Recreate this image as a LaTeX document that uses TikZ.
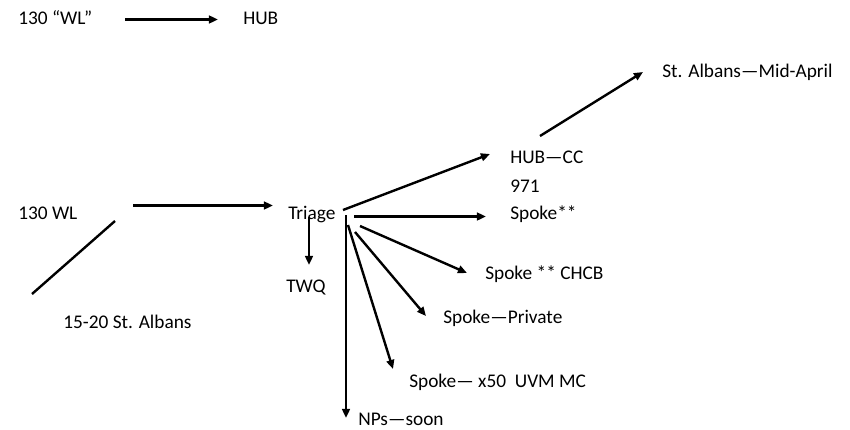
\documentclass[tikz,border=0pt]{standalone}
\usepackage{fontspec}
\setmainfont{Carlito}
\usetikzlibrary{arrows.meta}
\tikzset{
	lbl/.style={anchor=base west,inner sep=0pt,font=\fontsize{14.5}{17}\selectfont},
	ln/.style={line width=1.8pt},
	arr/.style={ln,-{Triangle[length=6.8pt,width=5.8pt]}}
}
\begin{document}
\begin{tikzpicture}[x=0.75pt,y=0.75pt,yscale=-1,xscale=1]
	\useasboundingbox (0,0) rectangle (850,429);
	
	% Text Node
	\node (wlq) [lbl] at (18,24) {130 “WL”};
	% Text Node
	\node (hub) [lbl] at (243,24) {HUB};
	% Text Node
	\node (wl) [lbl] at (18,219) {130 WL};
	% Text Node
	\node (alb) [lbl] at (63,328) {15-20 St. Albans};
	% Text Node
	\node (triage) [lbl] at (288,219) {Triage};
	% Text Node
	\node (twq) [lbl] at (286,292) {TWQ};
	% Text Node
	\node (hubcc) [lbl] at (510,163) {HUB—CC};
	% Text Node
	\node (nine) [lbl] at (510,192) {971};
	% Text Node
	\node (spk) [lbl] at (510,219) {Spoke**};
	% Text Node
	\node (midapr) [lbl] at (662,77) {St. Albans—Mid-April};
	% Text Node
	\node (chcb) [lbl] at (485,279) {Spoke ** CHCB};
	% Text Node
	\node (priv) [lbl] at (443,323) {Spoke—Private};
	% Text Node
	\node (uvm) [lbl] at (409,387) {Spoke— x50~ UVM MC};
	% Text Node
	\node (nps) [lbl] at (358,425) {NPs—soon};
	
	% end points
	\coordinate (a1) at (125,19.5);   \coordinate (a2) at (218,19.5);
	\coordinate (b1) at (133,205.5);  \coordinate (b2) at (273,205.5);
	\coordinate (c1) at (32,294);     \coordinate (c2) at (115,221);
	\coordinate (t0) at (343,210);    \coordinate (t1) at (490,154);
	\coordinate (m1) at (540,136);    \coordinate (m2) at (643,72);
	\coordinate (q1) at (309,217);    \coordinate (q2) at (309,265);
	\coordinate (s1) at (354,216.5);  \coordinate (s2) at (486,216.5);
	\coordinate (h1) at (360,226);    \coordinate (h2) at (467,273);
	\coordinate (p1) at (355,232);    \coordinate (p2) at (426,316);
	\coordinate (u1) at (348,225);    \coordinate (u2) at (393,369);
	\coordinate (n1) at (346,215);    \coordinate (n2) at (346,418);
	
	%Straight Lines
	\draw [arr] (a1) -- (a2);
	\draw [arr] (b1) -- (b2);
	\draw [ln] (c1) -- (c2);
	\draw [arr] (t0) -- (t1);
	\draw [arr] (m1) -- (m2);
	\draw [arr] (q1) -- (q2);
	\draw [arr] (s1) -- (s2);
	\draw [arr] (h1) -- (h2);
	\draw [arr] (p1) -- (p2);
	\draw [arr] (u1) -- (u2);
	\draw [arr] (n1) -- (n2);
\end{tikzpicture}
\end{document}
